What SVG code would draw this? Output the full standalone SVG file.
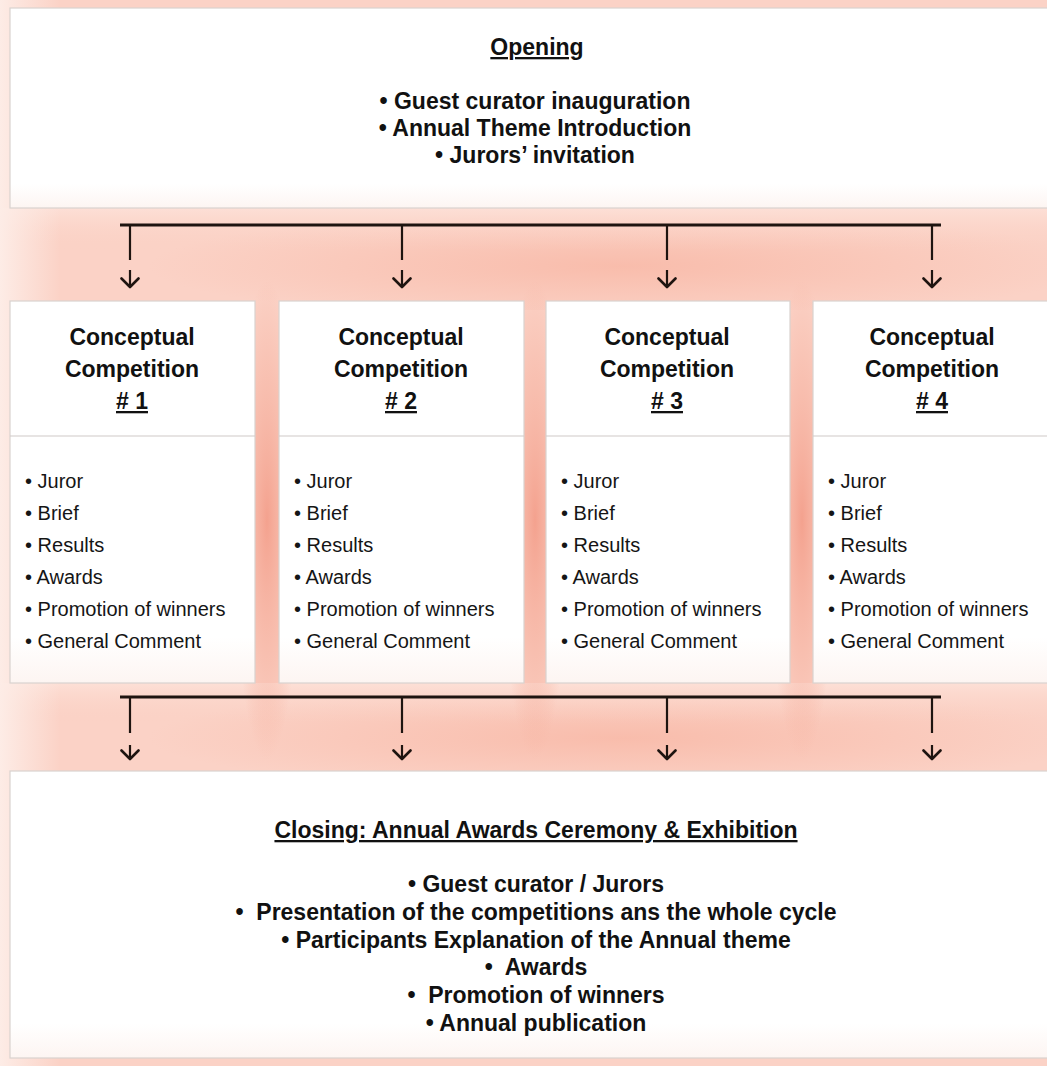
<svg xmlns="http://www.w3.org/2000/svg" width="1047" height="1066" viewBox="0 0 1047 1066">
  <defs>
    <linearGradient id="leftFade" x1="0" y1="0" x2="1" y2="0">
      <stop offset="0" stop-color="#fdece6"/>
      <stop offset="1" stop-color="#fdece6" stop-opacity="0"/>
    </linearGradient>
    <radialGradient id="streak" cx="0.5" cy="0.5" r="0.5">
      <stop offset="0" stop-color="#f39c88" stop-opacity="0.9"/>
      <stop offset="0.6" stop-color="#f5ab98" stop-opacity="0.45"/>
      <stop offset="1" stop-color="#f5ab98" stop-opacity="0"/>
    </radialGradient>
    <radialGradient id="bandGlow" cx="0.55" cy="0.6" r="0.5">
      <stop offset="0" stop-color="#f8b7a5" stop-opacity="0.8"/>
      <stop offset="1" stop-color="#f8b7a5" stop-opacity="0"/>
    </radialGradient>
    <linearGradient id="bandV" x1="0" y1="0" x2="0" y2="1">
      <stop offset="0" stop-color="#fde1d8" stop-opacity="0.9"/>
      <stop offset="0.45" stop-color="#fbd0c3" stop-opacity="0"/>
      <stop offset="1" stop-color="#fbd0c3" stop-opacity="0"/>
    </linearGradient>
    <linearGradient id="boxFill" x1="0" y1="0" x2="0" y2="1">
      <stop offset="0" stop-color="#ffffff"/>
      <stop offset="0.88" stop-color="#ffffff"/>
      <stop offset="1" stop-color="#fdf5f2"/>
    </linearGradient>
    <marker id="chev" viewBox="0 0 12 20" refX="10" refY="10" markerWidth="12" markerHeight="20" markerUnits="userSpaceOnUse" orient="auto">
      <path d="M1.5,1.5 L10,10 L1.5,18.5" fill="none" stroke="#1e1410" stroke-width="2.6" stroke-linecap="round" stroke-linejoin="round"/>
    </marker>
    <style>
      .box { fill: url(#boxFill); stroke: #d9d2cf; stroke-width: 1.2; }
      .div { stroke: #cfc9c7; stroke-width: 1.2; }
      .hdr { font-family: "Liberation Sans", Arial, sans-serif; font-weight: bold; font-size: 23px; fill: #111; text-anchor: middle; }
      .item { font-family: "Liberation Sans", Arial, sans-serif; font-size: 20px; fill: #151515; }
      .ul { text-decoration: underline; }
      .bar { stroke: #1e1410; stroke-width: 3; fill: none; }
      .drop { stroke: #1e1410; stroke-width: 2.2; fill: none; marker-end: url(#chev); }
      .dropTop { stroke-dasharray: 35 10 100; }
      .dropBot { stroke-dasharray: 36 12 100; }
    </style>
  </defs>

  <!-- background -->
  <rect x="0" y="0" width="1047" height="1066" fill="#fbd2c6"/>
  <rect x="100" y="200" width="947" height="110" fill="url(#bandGlow)"/>
  <rect x="100" y="675" width="947" height="105" fill="url(#bandGlow)"/>
  <rect x="0" y="208" width="1047" height="93" fill="url(#bandV)"/>
  <rect x="0" y="683" width="1047" height="89" fill="url(#bandV)"/>
  <ellipse cx="267" cy="520" rx="34" ry="240" fill="url(#streak)"/>
  <ellipse cx="535" cy="520" rx="34" ry="240" fill="url(#streak)"/>
  <ellipse cx="802" cy="520" rx="34" ry="240" fill="url(#streak)"/>
  <rect x="0" y="0" width="60" height="1066" fill="url(#leftFade)"/>

  <!-- Opening -->
  <g id="opening">
    <rect class="box" x="10" y="8" width="1050" height="200"/>
    <text class="hdr ul" x="537" y="55">Opening</text>
    <text class="hdr" x="535" y="109">• Guest curator inauguration</text>
    <text class="hdr" x="535" y="136">• Annual Theme Introduction</text>
    <text class="hdr" x="535" y="163">• Jurors’ invitation</text>
  </g>

  <!-- Competitions -->
  <g id="comp1">
    <rect class="box" x="10" y="301" width="245" height="382"/>
    <line class="div" x1="10" y1="436" x2="255" y2="436"/>
    <text class="hdr" x="132" y="345">Conceptual</text>
    <text class="hdr" x="132" y="377">Competition</text>
    <text class="hdr ul" x="132" y="409"># 1</text>
    <text class="item" x="25" y="488">• Juror</text>
    <text class="item" x="25" y="520">• Brief</text>
    <text class="item" x="25" y="552">• Results</text>
    <text class="item" x="25" y="584">• Awards</text>
    <text class="item" x="25" y="616">• Promotion of winners</text>
    <text class="item" x="25" y="648">• General Comment</text>
  </g>
  <g id="comp2">
    <rect class="box" x="279" y="301" width="245" height="382"/>
    <line class="div" x1="279" y1="436" x2="524" y2="436"/>
    <text class="hdr" x="401" y="345">Conceptual</text>
    <text class="hdr" x="401" y="377">Competition</text>
    <text class="hdr ul" x="401" y="409"># 2</text>
    <text class="item" x="294" y="488">• Juror</text>
    <text class="item" x="294" y="520">• Brief</text>
    <text class="item" x="294" y="552">• Results</text>
    <text class="item" x="294" y="584">• Awards</text>
    <text class="item" x="294" y="616">• Promotion of winners</text>
    <text class="item" x="294" y="648">• General Comment</text>
  </g>
  <g id="comp3">
    <rect class="box" x="546" y="301" width="244" height="382"/>
    <line class="div" x1="546" y1="436" x2="790" y2="436"/>
    <text class="hdr" x="667" y="345">Conceptual</text>
    <text class="hdr" x="667" y="377">Competition</text>
    <text class="hdr ul" x="667" y="409"># 3</text>
    <text class="item" x="561" y="488">• Juror</text>
    <text class="item" x="561" y="520">• Brief</text>
    <text class="item" x="561" y="552">• Results</text>
    <text class="item" x="561" y="584">• Awards</text>
    <text class="item" x="561" y="616">• Promotion of winners</text>
    <text class="item" x="561" y="648">• General Comment</text>
  </g>
  <g id="comp4">
    <rect class="box" x="813" y="301" width="245" height="382"/>
    <line class="div" x1="813" y1="436" x2="1058" y2="436"/>
    <text class="hdr" x="932" y="345">Conceptual</text>
    <text class="hdr" x="932" y="377">Competition</text>
    <text class="hdr ul" x="932" y="409"># 4</text>
    <text class="item" x="828" y="488">• Juror</text>
    <text class="item" x="828" y="520">• Brief</text>
    <text class="item" x="828" y="552">• Results</text>
    <text class="item" x="828" y="584">• Awards</text>
    <text class="item" x="828" y="616">• Promotion of winners</text>
    <text class="item" x="828" y="648">• General Comment</text>
  </g>

  <!-- Closing -->
  <g id="closing">
    <rect class="box" x="10" y="771" width="1050" height="287"/>
    <text class="hdr ul" x="536" y="838">Closing: Annual Awards Ceremony &amp; Exhibition</text>
    <text class="hdr" x="536" y="892" xml:space="preserve">• Guest curator / Jurors</text>
    <text class="hdr" x="536" y="920" xml:space="preserve">•  Presentation of the competitions ans the whole cycle</text>
    <text class="hdr" x="536" y="948" xml:space="preserve">• Participants Explanation of the Annual theme</text>
    <text class="hdr" x="536" y="975" xml:space="preserve">•  Awards</text>
    <text class="hdr" x="536" y="1003" xml:space="preserve">•  Promotion of winners</text>
    <text class="hdr" x="536" y="1031" xml:space="preserve">• Annual publication</text>
  </g>

  <!-- connectors -->
  <g id="connectors">
    <line class="bar" x1="120" y1="225" x2="941" y2="225"/>
    <line class="drop dropTop" x1="130" y1="225" x2="130" y2="287"/>
    <line class="drop dropTop" x1="402" y1="225" x2="402" y2="287"/>
    <line class="drop dropTop" x1="667" y1="225" x2="667" y2="287"/>
    <line class="drop dropTop" x1="932" y1="225" x2="932" y2="287"/>
    <line class="bar" x1="120" y1="697" x2="941" y2="697"/>
    <line class="drop dropBot" x1="130" y1="697" x2="130" y2="759"/>
    <line class="drop dropBot" x1="402" y1="697" x2="402" y2="759"/>
    <line class="drop dropBot" x1="667" y1="697" x2="667" y2="759"/>
    <line class="drop dropBot" x1="932" y1="697" x2="932" y2="759"/>
  </g>
</svg>
